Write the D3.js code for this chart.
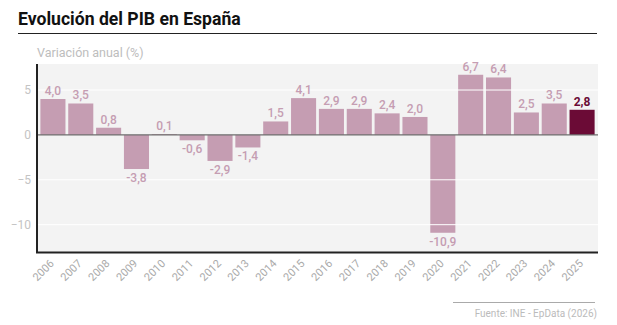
<!DOCTYPE html>
<html>
<head>
<meta charset="utf-8">
<script src="https://cdn.jsdelivr.net/npm/d3@7"></script>
<style>
  body { margin: 0; background: #fff; font-family: Roboto, sans-serif; }
</style>
</head>
<body>
<div id="chart"></div>
<script>
  // Data
  const years = ['2006', '2007', '2008', '2009', '2010', '2011', '2012', '2013', '2014', '2015',
    '2016', '2017', '2018', '2019', '2020', '2021', '2022', '2023', '2024', '2025'];
  const growth = [4.0, 3.5, 0.8, -3.8, 0.1, -0.6, -2.9, -1.4, 1.5, 4.1,
    2.9, 2.9, 2.4, 2.0, -10.9, 6.7, 6.4, 2.5, 3.5, 2.8];
  const yTicks = [5, 0, -5, -10];

  const W = 617, H = 325;
  const BAR = '#c59db2', LAST = '#6b0b36';
  const margin = { left: 37, right: 19, top: 64, bottom: 73 };

  const svg = d3.select('#chart').append('svg')
    .attr('width', W).attr('height', H);

  // Title + rule
  svg.append('text')
    .attr('x', 18).attr('y', 25)
    .attr('font-size', 17.6).attr('font-weight', 700).attr('fill', '#111')
    .text('Evolución del PIB en España');
  svg.append('line')
    .attr('x1', 18).attr('x2', 597).attr('y1', 33.5).attr('y2', 33.5)
    .attr('stroke', '#222').attr('stroke-width', 1.2);

  svg.append('text')
    .attr('x', 37).attr('y', 57)
    .attr('font-size', 12.5).attr('fill', '#bdbdbd')
    .text('Variación anual (%)');

  const x = d3.scaleBand()
    .domain(years)
    .range([margin.left + 2, W - margin.right - 2])
    .paddingInner(0.1).paddingOuter(0.05);

  const y = d3.scaleLinear()
    .domain([-13.1, 7.9])
    .range([H - margin.bottom + 0.5, margin.top]);

  // Plot background
  svg.append('rect')
    .attr('x', margin.left).attr('y', margin.top)
    .attr('width', W - margin.right - margin.left)
    .attr('height', y(-13.1) - margin.top)
    .attr('fill', '#f3f3f3');

  // Bars
  svg.append('g').selectAll('rect')
    .data(years)
    .join('rect')
    .attr('x', (d) => x(d))
    .attr('width', x.bandwidth())
    .attr('y', (d, i) => y(Math.max(0, growth[i])))
    .attr('height', (d, i) => Math.abs(y(growth[i]) - y(0)))
    .attr('fill', (d, i) => i === years.length - 1 ? LAST : BAR);

  // Gridlines drawn over the bars, like the original
  svg.append('g').selectAll('line')
    .data(yTicks.filter((t) => t !== 0))
    .join('line')
    .attr('x1', margin.left).attr('x2', W - margin.right)
    .attr('y1', (d) => y(d)).attr('y2', (d) => y(d))
    .attr('stroke', '#fff').attr('stroke-width', 1);

  // Zero line
  svg.append('line')
    .attr('x1', margin.left).attr('x2', W - margin.right)
    .attr('y1', y(0)).attr('y2', y(0))
    .attr('stroke', '#6e6e6e').attr('stroke-width', 1.2);

  // Y tick labels
  svg.append('g').selectAll('text')
    .data(yTicks)
    .join('text')
    .attr('x', 31).attr('y', (d) => y(d) + 4)
    .attr('text-anchor', 'end')
    .attr('font-size', 12).attr('fill', '#c4c4c4')
    .text((d) => d < 0 ? '\u2212' + Math.abs(d) : d);

  // Axes lines
  svg.append('line')
    .attr('x1', margin.left).attr('x2', margin.left)
    .attr('y1', margin.top).attr('y2', y(-13.1))
    .attr('stroke', '#222').attr('stroke-width', 2);
  svg.append('line')
    .attr('x1', margin.left - 1).attr('x2', W - margin.right)
    .attr('y1', y(-13.1)).attr('y2', y(-13.1))
    .attr('stroke', '#222').attr('stroke-width', 2);

  // Value labels
  svg.append('g').selectAll('text')
    .data(years)
    .join('text')
    .attr('x', (d) => x(d) + x.bandwidth() / 2)
    .attr('y', (d, i) => growth[i] >= 0 ? y(growth[i]) - 4 : y(growth[i]) + 13)
    .attr('text-anchor', 'middle')
    .attr('font-size', 12)
    .attr('font-weight', (d, i) => i === years.length - 1 ? 700 : 500)
    .attr('fill', (d, i) => i === years.length - 1 ? LAST : BAR)
    .text((d, i) => growth[i].toFixed(1).replace('.', ','));

  // X tick labels, rotated
  svg.append('g').selectAll('text')
    .data(years)
    .join('text')
    .attr('transform', (d) => 'translate(' + (x(d) + x.bandwidth() / 2 - 1) + ',' + (y(-13.1) + 9) + ') rotate(-45)')
    .attr('text-anchor', 'end')
    .attr('dy', '0.35em')
    .attr('font-size', 11).attr('fill', '#aaa')
    .text((d) => d);

  // Source
  svg.append('line')
    .attr('x1', 453).attr('x2', 595).attr('y1', 302.5).attr('y2', 302.5)
    .attr('stroke', '#aaa').attr('stroke-width', 1);
  svg.append('text')
    .attr('x', 597).attr('y', 317)
    .attr('text-anchor', 'end')
    .attr('font-size', 10).attr('fill', '#bbb')
    .text('Fuente: INE - EpData (2026)');
</script>
</body>
</html>
